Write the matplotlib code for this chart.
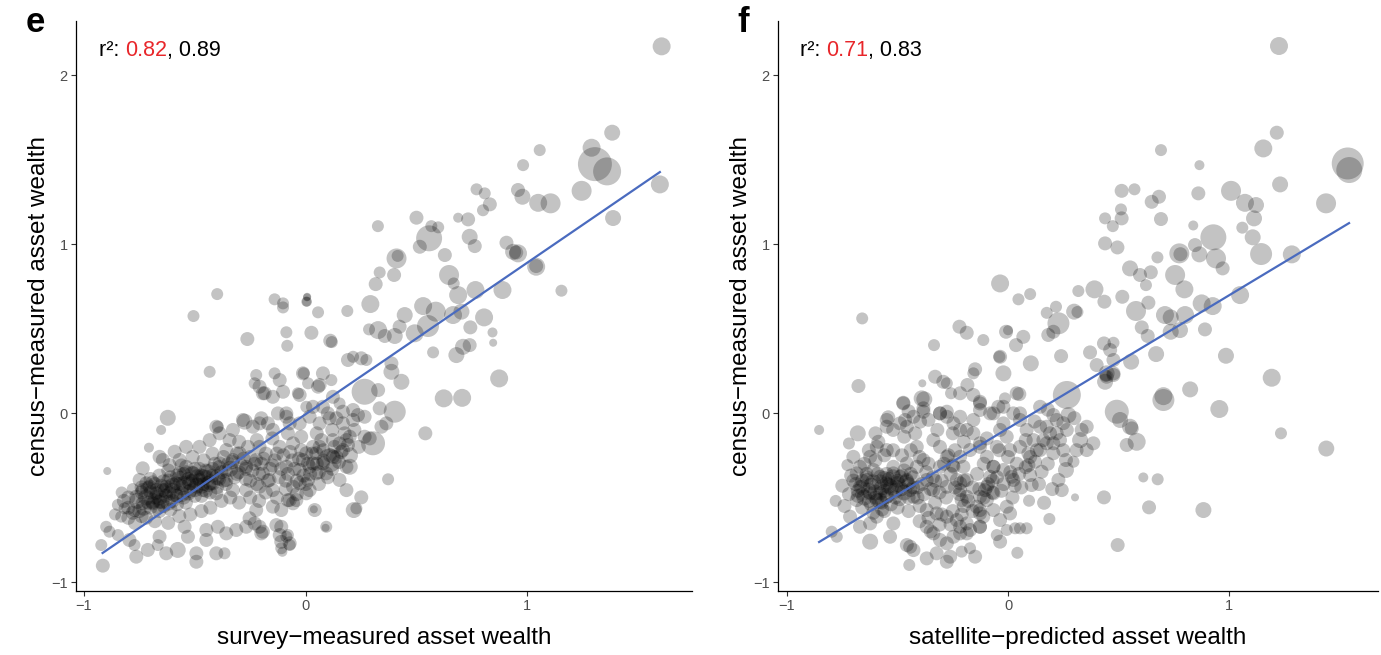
import numpy as np
import matplotlib
matplotlib.use("Agg")
from matplotlib import pyplot as plt

plt.rcParams['font.family'] = ['Liberation Sans', 'DejaVu Sans']

# (x, y, weight) per point, weight ~ marker radius in px (population weight)
# panel e : survey-measured vs census-measured
e_upper = [
    (1.606, 2.17, 9), (1.383, 1.659, 8), (1.29, 1.57, 9), (1.305, 1.473, 17), (1.36, 1.43, 14),
    (1.598, 1.353, 9), (1.245, 1.315, 10), (1.387, 1.154, 8), (1.056, 1.556, 6), (0.981, 1.467, 6),
    (0.771, 1.324, 6), (0.808, 1.30, 6), (0.831, 1.235, 7), (0.80, 1.20, 6), (0.733, 1.146, 7),
    (0.958, 1.32, 7), (0.978, 1.28, 8), (1.049, 1.244, 9), (1.105, 1.241, 10), (0.74, 1.043, 8),
    (0.763, 0.988, 7), (0.906, 1.008, 7), (0.958, 0.945, 9), (0.936, 0.954, 8), (0.95, 0.95, 7),
    (1.04, 0.866, 9), (1.04, 0.87, 7), (1.154, 0.724, 6), (0.688, 1.156, 5), (0.50, 1.156, 7),
    (0.326, 1.106, 6), (0.557, 1.034, 13), (0.567, 1.106, 6), (0.598, 1.099, 6), (0.515, 0.984, 7),
    (0.628, 0.935, 7),
]
e_middle = [
    (0.41, 0.915, 10), (0.415, 0.93, 6), (0.334, 0.832, 6), (0.399, 0.817, 7), (0.316, 0.763, 7),
    (0.647, 0.817, 10), (0.668, 0.767, 6), (0.688, 0.698, 9), (0.766, 0.728, 9), (0.888, 0.728, 9),
    (0.292, 0.645, 9), (0.188, 0.604, 6), (0.056, 0.596, 6), (0.006, 0.659, 5), (0.006, 0.685, 4),
    (0.53, 0.633, 9), (0.587, 0.60, 10), (0.447, 0.58, 8), (0.665, 0.58, 9), (0.703, 0.60, 8),
    (0.805, 0.566, 9), (0.026, 0.475, 7), (0.111, 0.428, 7), (0.118, 0.42, 6), (0.286, 0.495, 6),
    (0.327, 0.491, 9), (0.357, 0.456, 7), (0.402, 0.456, 8), (0.424, 0.511, 7), (0.492, 0.472, 9),
    (0.552, 0.515, 11), (0.743, 0.507, 7), (0.843, 0.477, 5), (0.846, 0.416, 4), (0.575, 0.359, 6),
    (0.68, 0.343, 8), (0.71, 0.392, 8), (0.74, 0.402, 7), (0.191, 0.314, 7), (0.214, 0.333, 6),
    (0.251, 0.324, 7), (0.274, 0.314, 6), (0.387, 0.294, 7), (0.387, 0.244, 8), (0.432, 0.185, 8),
    (0.873, 0.205, 9), (-0.012, 0.235, 7), (0.063, 0.166, 7), (0.116, 0.195, 6), (0.266, 0.126, 13),
    (0.327, 0.136, 7), (0.623, 0.087, 9), (0.706, 0.09, 9), (-0.399, 0.704, 6), (-0.506, 0.574, 6),
    (-0.263, 0.438, 7), (-0.433, 0.244, 6), (-0.14, 0.673, 6), (-0.102, 0.649, 6), (-0.102, 0.625, 6),
    (0.007, 0.688, 4), (0.003, 0.659, 5), (-0.087, 0.478, 6), (-0.083, 0.398, 6), (-0.009, 0.235, 6),
    (0.011, 0.176, 6), (0.056, 0.156, 7), (0.078, 0.235, 7), (-0.035, 0.117, 6), (0.003, 0.037, 6),
    (-0.223, 0.225, 6), (-0.23, 0.176, 6), (-0.185, 0.117, 7), (-0.148, 0.096, 7), (-0.117, 0.195, 7),
    (-0.14, 0.235, 6), (0.123, 0.096, 7), (0.153, 0.057, 6), (0.402, 0.008, 11), (0.334, 0.028, 7),
    (0.214, 0.018, 7), (0.078, 0.037, 7), (-0.622, -0.028, 8),
]
e_lower = [
    (0.342, -0.081, 7), (0.364, -0.061, 7), (0.54, -0.12, 7), (0.304, -0.179, 12), (0.266, -0.14, 7),
    (0.289, -0.15, 7), (0.184, -0.16, 7), (0.191, -0.189, 7), (0.236, -0.012, 7), (0.266, -0.022, 7),
    (0.139, -0.031, 7), (0.168, -0.061, 7), (0.1, -0.002, 7), (0.063, -0.061, 7), (0.018, -0.022, 7),
    (-0.275, -0.051, 8), (-0.396, -0.081, 6), (-0.2, -0.031, 7), (-0.17, -0.061, 7), (-0.125, -0.002, 7),
    (-0.087, -0.002, 7), (-0.072, -0.061, 7), (0.372, -0.392, 6), (0.251, -0.499, 7), (0.217, -0.574, 8),
    (0.09, -0.679, 4), (0.037, -0.57, 4), (0.199, -0.318, 8), (0.153, -0.18, 7), (0.176, -0.12, 7),
    (0.139, -0.26, 7), (0.108, -0.28, 12), (0.003, -0.475, 7), (-0.042, -0.515, 7), (-0.072, -0.515, 7),
    (-0.11, -0.673, 7), (-0.08, -0.722, 6), (-0.072, -0.781, 6), (-0.11, -0.762, 7), (-0.105, -0.821, 5),
    (-0.208, -0.673, 7), (-0.2, -0.712, 7), (-0.23, -0.653, 7), (-0.11, -0.574, 7), (-0.08, -0.515, 7),
    (-0.012, -0.278, 7), (0.018, -0.318, 7), (0.048, -0.238, 7), (0.033, -0.2, 7), (0.071, -0.16, 7),
    (-0.652, -0.1, 5), (-0.707, -0.205, 5), (-0.895, -0.343, 4), (-0.915, -0.903, 7), (-0.922, -0.781, 6),
    (-0.9, -0.673, 6), (-0.885, -0.702, 6), (-0.847, -0.722, 6), (-0.847, -0.544, 6), (-0.817, -0.564, 6),
    (-0.832, -0.613, 6), (-0.795, -0.751, 7), (-0.772, -0.781, 6), (-0.764, -0.85, 7), (-0.712, -0.81, 7),
    (-0.659, -0.732, 7), (-0.629, -0.83, 7), (-0.667, -0.781, 6), (-0.577, -0.81, 8), (-0.531, -0.732, 7),
    (-0.493, -0.83, 7), (-0.493, -0.88, 7), (-0.546, -0.673, 7), (-0.448, -0.751, 7), (-0.403, -0.83, 7),
    (-0.366, -0.83, 6), (-0.448, -0.692, 7), (-0.396, -0.673, 7), (-0.358, -0.712, 7), (-0.313, -0.692, 7),
    (-0.268, -0.673, 7), (-0.253, -0.623, 7), (-0.193, -0.702, 7), (-0.132, -0.663, 7), (-0.117, -0.722, 7),
    (-0.072, -0.771, 7), (-0.11, -0.8, 6), (-0.087, -0.732, 6), (-0.223, -0.574, 7), (-0.148, -0.554, 7),
    (-0.057, -0.534, 7), (0.041, -0.574, 7), (0.093, -0.673, 6), (-0.027, -0.416, 7), (0.011, -0.396, 7),
    (0.048, -0.357, 7), (0.078, -0.298, 7), (0.123, -0.259, 7), (0.184, -0.318, 7), (0.199, -0.14, 7),
    (0.214, -0.041, 7), (0.229, -0.564, 6), (0.108, -0.031, 7), (0.168, 0.008, 7), (0.033, 0.037, 7),
    (-0.027, 0.107, 7), (-0.102, 0.126, 7), (-0.193, 0.117, 7), (-0.208, 0.156, 7), (-0.283, -0.041, 7),
    (-0.238, -0.081, 7), (-0.208, -0.061, 7), (-0.148, -0.1, 7), (-0.087, -0.022, 7), (-0.027, -0.061, 7),
    (-0.403, -0.081, 7), (-0.388, -0.12, 7), (-0.328, -0.1, 7), (-0.343, -0.16, 7), (-0.433, -0.16, 7),
    (-0.479, -0.2, 7), (-0.539, -0.2, 7), (-0.591, -0.229, 7), (-0.659, -0.259, 7), (-0.644, -0.278, 7),
    (-0.614, -0.308, 7), (-0.569, -0.278, 7), (-0.735, -0.327, 7), (-0.749, -0.396, 7), (-0.719, -0.416, 7),
]
e_core = [
    (-0.764, -0.495, 7), (-0.735, -0.456, 7), (-0.704, -0.436, 7), (-0.674, -0.475, 7), (-0.659, -0.525, 7),
    (-0.689, -0.534, 7), (-0.735, -0.534, 7), (-0.772, -0.574, 7), (-0.644, -0.456, 7), (-0.614, -0.475, 7),
    (-0.629, -0.436, 7), (-0.569, -0.357, 7), (-0.539, -0.318, 7), (-0.509, -0.357, 7), (-0.479, -0.396, 7),
    (-0.448, -0.377, 7), (-0.418, -0.416, 7), (-0.403, -0.475, 7), (-0.463, -0.456, 7), (-0.524, -0.416, 7),
    (-0.584, -0.416, 7), (-0.358, -0.219, 7), (-0.328, -0.278, 7), (-0.298, -0.238, 7), (-0.268, -0.318, 7),
    (-0.223, -0.278, 7), (-0.193, -0.357, 7), (-0.163, -0.396, 7), (-0.358, -0.396, 7), (-0.328, -0.456, 7),
    (-0.268, -0.456, 7), (-0.208, -0.436, 7), (-0.148, -0.456, 7), (-0.388, -0.298, 7), (-0.208, -0.2, 7),
    (-0.117, -0.2, 7), (-0.057, -0.179, 7), (0.003, -0.238, 7), (0.063, -0.2, 7), (0.123, -0.16, 7),
    (0.168, -0.219, 7), (-0.087, -0.318, 7), (-0.027, -0.337, 7), (0.033, -0.298, 7), (0.093, -0.357, 7),
    (0.153, -0.396, 7), (-0.057, -0.436, 7), (0.018, -0.456, 7), (0.184, -0.456, 7),
    (-0.80, -0.50, 7), (-0.78, -0.45, 6), (-0.75, -0.58, 7), (-0.72, -0.50, 8), (-0.70, -0.56, 7),
    (-0.68, -0.42, 7), (-0.66, -0.50, 8), (-0.64, -0.55, 7), (-0.62, -0.40, 7), (-0.60, -0.46, 8),
    (-0.60, -0.52, 7), (-0.58, -0.37, 7), (-0.56, -0.44, 8), (-0.55, -0.50, 7), (-0.53, -0.39, 7),
    (-0.52, -0.46, 7), (-0.50, -0.33, 7), (-0.49, -0.43, 8), (-0.47, -0.49, 7), (-0.45, -0.34, 7),
    (-0.44, -0.42, 8), (-0.42, -0.37, 7), (-0.41, -0.30, 7), (-0.40, -0.44, 7), (-0.38, -0.35, 7),
    (-0.37, -0.26, 7), (-0.36, -0.42, 7), (-0.34, -0.33, 8), (-0.32, -0.38, 7), (-0.31, -0.24, 7),
    (-0.29, -0.31, 7), (-0.27, -0.39, 7), (-0.25, -0.26, 7), (-0.24, -0.34, 7), (-0.22, -0.42, 7),
    (-0.20, -0.30, 7), (-0.18, -0.24, 7), (-0.16, -0.33, 7), (-0.14, -0.28, 7), (-0.12, -0.38, 7),
    (-0.10, -0.25, 7), (-0.08, -0.36, 7), (-0.06, -0.28, 7), (-0.04, -0.40, 7), (-0.02, -0.22, 7),
    (0.02, -0.36, 7), (0.05, -0.30, 7), (0.08, -0.22, 7), (0.10, -0.38, 7),
    (-0.74, -0.47, 7), (-0.70, -0.47, 7), (-0.68, -0.50, 7), (-0.65, -0.43, 7), (-0.63, -0.49, 7),
    (-0.57, -0.42, 7), (-0.55, -0.36, 7), (-0.51, -0.40, 7), (-0.47, -0.37, 7), (-0.43, -0.47, 7),
    (-0.71, -0.53, 7), (-0.66, -0.58, 7), (-0.61, -0.57, 7), (-0.58, -0.49, 7), (-0.54, -0.53, 7),
    (-0.50, -0.49, 7), (-0.46, -0.42, 7), (-0.39, -0.39, 7), (-0.35, -0.30, 7), (-0.30, -0.35, 7),
    (-0.83, -0.47, 6), (-0.86, -0.60, 6), (-0.80, -0.62, 7), (-0.77, -0.65, 7), (-0.72, -0.62, 7),
    (-0.68, -0.64, 7), (-0.62, -0.65, 7), (-0.57, -0.61, 7), (-0.52, -0.60, 7), (-0.47, -0.58, 7),
    (-0.43, -0.56, 7), (-0.38, -0.52, 7), (-0.34, -0.50, 7), (-0.30, -0.53, 7), (-0.25, -0.50, 7),
    (-0.21, -0.52, 7), (-0.18, -0.47, 7), (-0.13, -0.50, 7), (-0.09, -0.45, 7), (-0.04, -0.48, 7),
    (0.00, -0.42, 7), (0.06, -0.42, 7), (0.12, -0.33, 7), (0.15, -0.29, 7), (0.20, -0.25, 8),
    (0.24, -0.20, 7), (0.22, -0.10, 7), (0.12, -0.10, 7), (0.05, -0.12, 7), (-0.02, -0.14, 7),
    (-0.08, -0.12, 7), (-0.15, -0.15, 7), (-0.22, -0.16, 7), (-0.26, -0.20, 7), (-0.30, -0.17, 7),
    (-0.42, -0.24, 7), (-0.46, -0.28, 7), (-0.51, -0.26, 7), (-0.56, -0.31, 7), (-0.62, -0.34, 7),
    (-0.66, -0.37, 7), (-0.70, -0.39, 7),
]
e_core2 = [
    (-0.76, -0.52, 8), (-0.74, -0.44, 7), (-0.73, -0.56, 8), (-0.71, -0.45, 8), (-0.69, -0.52, 8),
    (-0.69, -0.41, 7), (-0.67, -0.55, 8), (-0.67, -0.46, 8), (-0.65, -0.52, 8), (-0.64, -0.41, 8),
    (-0.63, -0.46, 8), (-0.62, -0.53, 8), (-0.61, -0.38, 7), (-0.60, -0.43, 8), (-0.59, -0.48, 8),
    (-0.58, -0.54, 7), (-0.57, -0.39, 8), (-0.56, -0.48, 8), (-0.55, -0.42, 8), (-0.54, -0.35, 7),
    (-0.53, -0.47, 8), (-0.52, -0.41, 8), (-0.51, -0.36, 8), (-0.50, -0.45, 8), (-0.49, -0.38, 8),
    (-0.48, -0.33, 7), (-0.47, -0.43, 8), (-0.46, -0.38, 8), (-0.45, -0.46, 7), (-0.44, -0.35, 8),
    (-0.43, -0.41, 8), (-0.42, -0.33, 7), (-0.40, -0.38, 8), (-0.39, -0.32, 7), (-0.37, -0.40, 7),
    (-0.36, -0.34, 7), (-0.33, -0.29, 7), (-0.31, -0.36, 7), (-0.28, -0.27, 7), (-0.27, -0.33, 7),
    (-0.25, -0.40, 7), (-0.23, -0.30, 7), (-0.21, -0.36, 7), (-0.19, -0.27, 7), (-0.17, -0.40, 7),
    (-0.15, -0.31, 7), (-0.13, -0.24, 7), (-0.11, -0.33, 7), (-0.09, -0.40, 7), (-0.07, -0.23, 7),
    (-0.05, -0.33, 7), (-0.03, -0.27, 7), (-0.01, -0.37, 7), (0.01, -0.30, 7), (0.03, -0.24, 7),
    (0.06, -0.35, 7), (0.08, -0.28, 7), (0.11, -0.25, 7), (0.13, -0.20, 7), (0.16, -0.23, 7),
    (-0.80, -0.56, 7), (-0.82, -0.52, 7), (-0.78, -0.59, 7), (-0.74, -0.61, 7),
]

# panel f : satellite-predicted vs census-measured
f_upper = [
    (1.226, 2.172, 9), (1.216, 1.659, 7), (1.155, 1.566, 9), (0.692, 1.556, 6), (0.866, 1.467, 5),
    (1.537, 1.477, 16), (1.544, 1.438, 13), (1.231, 1.353, 8), (1.439, 1.241, 10), (1.009, 1.315, 10),
    (1.072, 1.244, 9), (1.122, 1.231, 8), (1.113, 1.152, 8), (1.06, 1.097, 6), (1.107, 1.04, 8),
    (1.145, 0.941, 11), (1.284, 0.939, 9), (0.861, 1.30, 7), (0.683, 1.28, 7), (0.65, 1.25, 7),
    (0.692, 1.148, 7), (0.514, 1.315, 7), (0.572, 1.324, 6), (0.511, 1.205, 6), (0.514, 1.152, 7),
    (0.439, 1.152, 6), (0.474, 1.106, 6), (0.439, 1.004, 7), (0.495, 0.98, 7), (0.838, 1.11, 5),
    (0.929, 1.04, 13), (0.846, 0.994, 7), (0.866, 0.939, 8), (0.775, 0.945, 10), (0.78, 0.94, 7),
    (0.941, 0.915, 10), (0.971, 0.856, 7), (0.676, 0.921, 6), (0.552, 0.856, 8), (0.597, 0.817, 7),
    (0.646, 0.833, 7), (0.624, 0.757, 6), (0.756, 0.817, 10), (0.798, 0.732, 9), (1.05, 0.698, 9),
    (0.876, 0.649, 9), (0.926, 0.633, 9), (0.891, 0.495, 7), (0.986, 0.339, 8), (1.193, 0.209, 9),
    (0.824, 0.14, 8), (0.703, 0.10, 9), (0.266, 0.107, 14),
]
f_middle = [
    (0.391, 0.732, 9), (0.318, 0.722, 6), (0.436, 0.659, 7), (0.517, 0.688, 7), (0.579, 0.604, 10),
    (0.635, 0.653, 7), (0.71, 0.58, 9), (0.736, 0.566, 8), (0.801, 0.58, 9), (0.605, 0.507, 7),
    (0.632, 0.456, 7), (0.778, 0.491, 8), (0.736, 0.481, 8), (0.67, 0.349, 8), (0.557, 0.304, 8),
    (0.434, 0.412, 7), (0.477, 0.416, 6), (0.446, 0.235, 8), (0.477, 0.225, 7), (0.439, 0.185, 8),
    (0.442, 0.22, 6), (0.371, 0.359, 7), (0.24, 0.337, 7), (0.103, 0.294, 8), (0.047, 0.673, 6),
    (0.1, 0.704, 6), (0.175, 0.593, 6), (0.217, 0.629, 6), (0.299, 0.6, 8), (0.314, 0.598, 6),
    (0.228, 0.531, 11), (0.182, 0.462, 7), (0.205, 0.481, 7), (-0.009, 0.481, 7), (0.0, 0.49, 5),
    (0.036, 0.402, 7), (0.069, 0.451, 7), (-0.036, 0.767, 9), (-0.036, 0.333, 7), (-0.021, 0.235, 8),
    (0.039, 0.117, 7), (-0.22, 0.511, 7), (-0.187, 0.475, 7), (-0.335, 0.402, 6), (-0.112, 0.432, 6),
    (-0.039, 0.333, 6), (-0.149, 0.259, 7), (-0.157, 0.235, 6), (-0.33, 0.215, 7), (-0.293, 0.185, 7),
    (-0.277, 0.176, 6), (-0.388, 0.176, 4), (-0.258, 0.117, 6), (-0.217, 0.117, 7), (-0.184, 0.166, 7),
    (-0.157, 0.107, 7), (-0.127, 0.067, 7), (-0.014, 0.087, 6), (0.051, 0.112, 7), (-0.474, 0.061, 7),
    (-0.379, 0.081, 8), (-0.549, -0.041, 7), (-0.489, -0.061, 7), (-0.428, -0.022, 7), (-0.383, 0.008, 7),
    (-0.308, -0.002, 7), (-0.277, 0.008, 7), (-0.217, -0.022, 7), (-0.157, -0.041, 7), (-0.081, -0.002, 7),
    (-0.044, 0.037, 7), (-0.127, 0.018, 7), (0.054, -0.002, 7), (0.145, 0.037, 7), (0.205, -0.012, 7),
    (0.273, -0.012, 8), (0.326, -0.16, 8), (0.356, -0.219, 7), (0.386, -0.179, 7), (0.333, -0.1, 7),
    (0.356, -0.081, 7), (0.446, 0.215, 7), (0.477, 0.235, 7), (0.401, 0.284, 7), (0.477, 0.314, 7),
    (0.462, 0.373, 7), (0.492, 0.008, 12), (0.507, -0.041, 8), (0.552, -0.081, 8), (0.56, -0.091, 7),
    (0.582, -0.17, 9), (0.537, -0.189, 7), (0.703, 0.077, 11), (0.956, 0.024, 9), (0.612, -0.381, 5),
    (0.677, -0.392, 6), (0.434, -0.499, 7), (0.303, -0.499, 4), (0.638, -0.558, 7), (0.884, -0.574, 8),
    (0.496, -0.781, 7), (1.235, -0.12, 6), (1.44, -0.21, 8), (-0.677, 0.16, 7), (-0.855, -0.1, 5),
    (-0.68, -0.12, 8), (-0.66, 0.56, 6),
]
f_lower = [
    (0.262, -0.278, 7), (0.262, -0.337, 8), (0.296, -0.288, 6), (0.228, -0.396, 7), (0.243, -0.456, 7),
    (0.163, -0.531, 7), (0.187, -0.627, 6), (0.095, -0.519, 6), (0.084, -0.682, 6), (0.042, -0.827, 6),
    (-0.036, -0.761, 7), (-0.051, -0.722, 6), (-0.006, -0.692, 6), (-0.149, -0.85, 7), (-0.172, -0.8, 6),
    (-0.21, -0.82, 6), (-0.127, -0.673, 7), (-0.187, -0.712, 7), (-0.217, -0.673, 7), (0.107, -0.426, 7),
    (0.1, -0.367, 7), (0.152, -0.347, 7), (0.092, -0.308, 7), (0.122, -0.288, 7), (0.017, -0.377, 7),
    (0.024, -0.396, 7), (-0.021, -0.337, 7), (-0.066, -0.318, 7), (-0.081, -0.377, 7), (-0.104, -0.456, 7),
    (-0.096, -0.515, 7), (-0.127, -0.574, 7), (-0.066, -0.574, 7), (-0.006, -0.554, 7), (0.009, -0.594, 7),
    (-0.036, -0.633, 7), (0.032, -0.682, 6), (0.054, -0.682, 6), (-0.187, -0.495, 7), (-0.21, -0.515, 7),
    (-0.217, -0.416, 7), (-0.202, -0.318, 7), (-0.172, -0.219, 7), (-0.127, -0.179, 7), (-0.096, -0.15, 7),
    (-0.051, -0.2, 7), (-0.006, -0.14, 7), (0.009, -0.219, 7), (-0.036, -0.1, 7), (-0.021, -0.061, 7),
    (0.054, -0.2, 7), (0.092, -0.238, 7), (0.115, -0.16, 7), (0.145, -0.219, 7), (0.175, -0.179, 7),
    (0.205, -0.238, 7), (0.235, -0.16, 7), (0.266, -0.1, 7), (0.19, -0.12, 7), (0.145, -0.081, 7),
    (0.084, -0.1, 7), (0.054, -0.041, 7), (0.024, -0.002, 7), (-0.021, 0.037, 7), (-0.066, -0.002, 7),
    (-0.127, 0.057, 7), (-0.187, -0.1, 7), (0.175, -0.081, 7), (0.22, -0.041, 7), (0.22, -0.12, 7),
    (0.205, -0.179, 7),
    (-0.542, -0.025, 7), (-0.549, -0.081, 7), (-0.474, 0.057, 7), (-0.391, 0.087, 8), (-0.383, 0.028, 7),
    (-0.466, -0.041, 7), (-0.458, -0.081, 7), (-0.398, -0.051, 7), (-0.587, -0.17, 7), (-0.594, -0.2, 7),
    (-0.549, -0.219, 7), (-0.624, -0.259, 7), (-0.727, -0.308, 6), (-0.7, -0.259, 7), (-0.67, -0.318, 7),
    (-0.715, -0.613, 7), (-0.67, -0.673, 7), (-0.624, -0.653, 7), (-0.594, -0.613, 7), (-0.798, -0.702, 6),
    (-0.775, -0.732, 6), (-0.624, -0.761, 8), (-0.534, -0.732, 7), (-0.519, -0.653, 7), (-0.443, -0.791, 7),
    (-0.428, -0.811, 7), (-0.458, -0.781, 7), (-0.447, -0.899, 6), (-0.368, -0.86, 7), (-0.323, -0.83, 7),
    (-0.277, -0.88, 7), (-0.262, -0.85, 7), (-0.368, -0.673, 7), (-0.338, -0.712, 7), (-0.308, -0.751, 7),
    (-0.277, -0.771, 7), (-0.247, -0.732, 7), (-0.217, -0.712, 7), (-0.172, -0.692, 7), (-0.127, -0.673, 7),
    (-0.368, -0.574, 7), (-0.323, -0.594, 7), (-0.277, -0.613, 7), (-0.232, -0.633, 7), (-0.187, -0.653, 7),
    (-0.127, -0.594, 7), (-0.338, -0.16, 7), (-0.308, -0.2, 7), (-0.277, -0.259, 7), (-0.308, -0.318, 7),
    (-0.247, -0.318, 7), (-0.217, -0.259, 7), (-0.232, -0.396, 7), (-0.277, -0.436, 7), (-0.217, -0.456, 7),
    (-0.187, -0.396, 7), (-0.368, -0.396, 7), (-0.338, -0.456, 7), (-0.383, -0.278, 7), (-0.413, -0.2, 7),
    (-0.308, -0.002, 7), (-0.277, -0.022, 7), (-0.247, -0.061, 7), (-0.217, -0.1, 7), (-0.157, -0.12, 7),
    (-0.127, -0.2, 7), (-0.096, -0.259, 7), (-0.066, -0.318, 7), (-0.096, -0.436, 7), (-0.066, -0.475, 7),
    (-0.127, -0.495, 7), (-0.142, -0.554, 7), (-0.112, -0.613, 7),
]
f_core = [
    (-0.685, -0.357, 7), (-0.67, -0.436, 7), (-0.685, -0.515, 7), (-0.639, -0.396, 7), (-0.609, -0.337, 7),
    (-0.579, -0.377, 7), (-0.579, -0.475, 7), (-0.549, -0.416, 7), (-0.519, -0.357, 7), (-0.504, -0.436, 7),
    (-0.489, -0.377, 7), (-0.458, -0.396, 7), (-0.443, -0.456, 7), (-0.428, -0.495, 7), (-0.594, -0.515, 7),
    (-0.549, -0.495, 7), (-0.624, -0.475, 7), (-0.519, -0.318, 7), (-0.458, -0.298, 7), (-0.413, -0.318, 7),
    (-0.70, -0.40, 7), (-0.66, -0.48, 7), (-0.64, -0.36, 7), (-0.62, -0.43, 8), (-0.60, -0.50, 7),
    (-0.58, -0.41, 8), (-0.56, -0.46, 7), (-0.55, -0.36, 7), (-0.53, -0.44, 8), (-0.51, -0.50, 7),
    (-0.50, -0.40, 7), (-0.48, -0.45, 7), (-0.47, -0.34, 7), (-0.45, -0.42, 7), (-0.43, -0.38, 7),
    (-0.41, -0.44, 7), (-0.66, -0.40, 7), (-0.63, -0.52, 7), (-0.57, -0.53, 7), (-0.54, -0.39, 7),
    (-0.68, -0.46, 7), (-0.72, -0.48, 7), (-0.71, -0.37, 7), (-0.65, -0.30, 7), (-0.60, -0.28, 7),
    (-0.56, -0.25, 7), (-0.52, -0.22, 7), (-0.48, -0.25, 7), (-0.44, -0.22, 7), (-0.40, -0.26, 7),
    (-0.36, -0.30, 7), (-0.34, -0.38, 7), (-0.30, -0.40, 7), (-0.26, -0.36, 7), (-0.24, -0.44, 7),
    (-0.28, -0.50, 7), (-0.33, -0.53, 7), (-0.38, -0.48, 7), (-0.40, -0.55, 7), (-0.45, -0.58, 7),
    (-0.50, -0.56, 7), (-0.56, -0.58, 7), (-0.61, -0.59, 7), (-0.66, -0.56, 7), (-0.74, -0.55, 7),
    (-0.75, -0.43, 7), (-0.78, -0.52, 6), (-0.36, -0.62, 7), (-0.31, -0.66, 7), (-0.25, -0.58, 7),
    (-0.20, -0.55, 7), (-0.16, -0.44, 7), (-0.14, -0.36, 7), (-0.11, -0.30, 7), (-0.07, -0.40, 7),
    (-0.03, -0.46, 7), (0.02, -0.50, 7), (0.06, -0.44, 7), (0.04, -0.30, 7), (0.00, -0.26, 7),
    (-0.04, -0.22, 7), (0.08, -0.16, 7), (0.12, -0.05, 7), (0.18, 0.02, 7), (0.25, -0.06, 7),
    (0.30, -0.03, 7), (0.31, -0.22, 7), (0.25, -0.22, 7), (0.18, -0.30, 7), (0.14, -0.42, 7),
    (0.20, -0.45, 7), (-0.25, -0.12, 7), (-0.20, -0.17, 7), (-0.32, -0.10, 7), (-0.36, -0.04, 7),
    (-0.42, -0.12, 7), (-0.47, -0.14, 7), (-0.52, -0.10, 7), (-0.45, 0.01, 7), (-0.60, -0.12, 7),
    (-0.63, -0.22, 7), (-0.72, -0.18, 6),
]
f_core2 = [
    (-0.66, -0.44, 8), (-0.65, -0.50, 8), (-0.64, -0.38, 7), (-0.63, -0.46, 8), (-0.62, -0.54, 7),
    (-0.61, -0.41, 8), (-0.60, -0.47, 8), (-0.59, -0.36, 7), (-0.58, -0.52, 8), (-0.57, -0.44, 8),
    (-0.56, -0.39, 8), (-0.55, -0.49, 8), (-0.54, -0.43, 8), (-0.53, -0.54, 7), (-0.52, -0.38, 8),
    (-0.51, -0.46, 8), (-0.50, -0.42, 8), (-0.49, -0.51, 7), (-0.48, -0.37, 7), (-0.47, -0.47, 8),
    (-0.46, -0.41, 8), (-0.45, -0.50, 7), (-0.44, -0.36, 7), (-0.43, -0.44, 7), (-0.68, -0.49, 7),
    (-0.69, -0.42, 7), (-0.57, -0.57, 7), (-0.41, -0.50, 7), (-0.39, -0.42, 7), (-0.37, -0.35, 7),
    (-0.35, -0.45, 7), (-0.33, -0.40, 7), (-0.31, -0.47, 7), (-0.29, -0.30, 7), (-0.27, -0.25, 7),
    (-0.25, -0.31, 7), (-0.24, -0.22, 7), (-0.22, -0.48, 7), (-0.20, -0.40, 7), (-0.18, -0.52, 7),
    (-0.16, -0.58, 7), (-0.13, -0.45, 7), (-0.11, -0.50, 7), (-0.09, -0.42, 7), (-0.07, -0.47, 7),
    (-0.05, -0.38, 7), (-0.02, -0.42, 7), (0.01, -0.35, 7), (0.03, -0.43, 7), (0.05, -0.36, 7),
    (0.08, -0.32, 7), (0.10, -0.26, 7), (0.13, -0.22, 7), (0.16, -0.16, 7), (-0.30, -0.60, 7),
    (-0.26, -0.66, 7), (-0.21, -0.60, 7), (-0.35, -0.70, 7), (-0.40, -0.64, 7),
]

# fitted lines (end points)
e_fit_x = [-0.916, 1.598]
e_fit_y = [-0.828, 1.426]
f_fit_x = [-0.855, 1.543]
f_fit_y = [-0.763, 1.124]

e_r2 = ("0.82", "0.89")
f_r2 = ("0.71", "0.83")

W, H = 1381, 655
fig = plt.figure(figsize=(W / 100, H / 100), dpi=100)


def px_axes(left, right, top, bottom):
    return fig.add_axes([left / W, 1 - bottom / H, (right - left) / W, (bottom - top) / H])


def draw_panel(ax, points, fit_x, fit_y, xlim, xlabel):
    pts = np.array(points)
    ax.scatter(pts[:, 0], pts[:, 1], s=2.07 * pts[:, 2] ** 2, color='black',
               alpha=0.235, linewidths=0, zorder=2)
    ax.plot(fit_x, fit_y, color='#4a6bbf', lw=1.6, zorder=3)
    ax.set_xlim(*xlim)
    ax.set_ylim(-1.053, 2.32)
    ax.set_xticks([-1, 0, 1])
    ax.set_yticks([-1, 0, 1, 2])
    ax.set_xticklabels(['\u22121', '0', '1'])
    ax.set_yticklabels(['\u22121', '0', '1', '2'])
    for s in ['top', 'right']:
        ax.spines[s].set_visible(False)
    for s in ['left', 'bottom']:
        ax.spines[s].set_linewidth(0.9)
        ax.spines[s].set_color('black')
    ax.tick_params(length=3.5, width=0.8, color='#333333', labelcolor='#4d4d4d',
                   labelsize=10.5, pad=2.5)
    ax.set_xlabel(xlabel, fontsize=17.5, labelpad=10)
    ax.set_ylabel('census\u2212measured asset wealth', fontsize=17.5, labelpad=1)


def r2_text(x, y, vals):
    # pieces placed one after the other, the first value in red
    pieces = [('r\u00b2: ', 'black'), (vals[0], '#e8262a'), (', ' + vals[1], 'black')]
    renderer = fig.canvas.get_renderer()
    cur = x
    for txt, col in pieces:
        t = fig.text(cur / W, 1 - y / H, txt, color=col, fontsize=15.5, va='baseline', ha='left')
        bb = t.get_window_extent(renderer=renderer)
        cur += bb.width


ax_e = px_axes(76, 692, 21, 591)
draw_panel(ax_e, e_upper + e_middle + e_lower + e_core + e_core2, e_fit_x, e_fit_y,
           (-1.036, 1.743), 'survey\u2212measured asset wealth')
ax_f = px_axes(778, 1378, 21, 591)
draw_panel(ax_f, f_upper + f_middle + f_lower + f_core + f_core2, f_fit_x, f_fit_y,
           (-1.041, 1.674), 'satellite\u2212predicted asset wealth')

fig.text(26 / W, 1 - 32 / H, 'e', fontsize=25, fontweight='bold', va='baseline', ha='left')
fig.text(737 / W, 1 - 32 / H, 'f', fontsize=25, fontweight='bold', va='baseline', ha='left')

fig.canvas.draw()
r2_text(99, 56, e_r2)
r2_text(800, 56, f_r2)

fig.savefig('out.png', dpi=100)
